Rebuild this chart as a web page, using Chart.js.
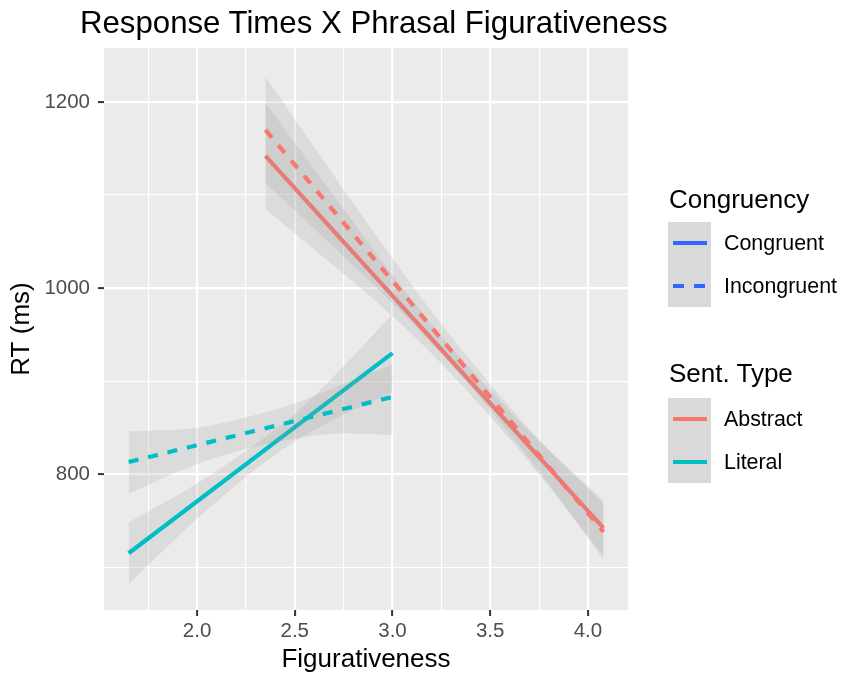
<!DOCTYPE html>
<html>
<head>
<meta charset="utf-8">
<script src="https://cdn.jsdelivr.net/npm/chart.js@4/dist/chart.umd.min.js"></script>
<style>
  body { margin: 0; background: #fff; font-family: "Liberation Sans", Arial, sans-serif; }
  #wrap { position: relative; width: 843px; height: 677px; }
  #title { position: absolute; left: 80px; top: 7px; font-size: 31.2px; line-height: 31px; color: #000; white-space: nowrap; }
  .lg-title { position: absolute; left: 669px; font-size: 26px; line-height: 30px; height: 30px; color: #000; white-space: nowrap; }
  .lg-box { position: absolute; left: 668px; width: 43px; height: 85px; background: #D9D9D9; }
  .lg-key { position: absolute; left: 673px; width: 34px; height: 4px; }
  .lg-label { position: absolute; left: 724px; font-size: 21.4px; line-height: 24px; height: 24px; color: #000; white-space: nowrap; }
</style>
</head>
<body>
<div id="wrap">
  <canvas id="chart" width="843" height="677"></canvas>
  <div id="title">Response Times X Phrasal Figurativeness</div>
  <div id="legend"></div>
</div>
<script>
// fitted lines (end points)
const abstractLineX = [2.35, 4.08];
const literalLineX = [1.65, 3.0];
const abstractCongruentRT = [1142, 742];
const abstractIncongruentRT = [1170, 738];
const literalCongruentRT = [715, 930];
const literalIncongruentRT = [813, 883];

// confidence bands, read at a few x positions
const abstractBandX = [2.35, 2.75, 3.0, 3.25, 3.5, 3.75, 4.08];
const abstractCongruentUpper = [1199, 1085, 1014, 949, 890, 836, 772];
const abstractCongruentLower = [1085, 1015, 970, 919, 862, 800, 712];
const abstractIncongruentUpper = [1227, 1106, 1032, 961, 897, 837, 768];
const abstractIncongruentLower = [1113, 1034, 984, 929, 869, 803, 708];

const literalBandX = [1.65, 2.0, 2.25, 2.5, 2.75, 3.0];
const literalCongruentUpper = [748, 790, 825, 865, 916, 972];
const literalCongruentLower = [682, 752, 797, 835, 864, 888];
const literalIncongruentUpper = [846, 850, 861, 876, 897, 918];
const literalIncongruentLower = [779, 811, 827, 838, 844, 842];

// axes
const xMajorTicks = [2.0, 2.5, 3.0, 3.5, 4.0];
const xTickLabels = ['2.0', '2.5', '3.0', '3.5', '4.0'];
const xMinorTicks = [1.75, 2.25, 2.75, 3.25, 3.75];
const yMajorTicks = [800, 1000, 1200];
const yTickLabels = ['800', '1000', '1200'];
const yMinorTicks = [700, 900, 1100];

const congruencyLevels = ['Congruent', 'Incongruent'];
const sentTypeLevels = ['Abstract', 'Literal'];

const RED = '#F8766D';
const CYAN = '#00BFC4';
const BLUE = '#3366FF';
const BAND = 'rgba(153,153,153,0.2)';
const FONT = '"Liberation Sans", Arial, sans-serif';

Chart.defaults.font.family = FONT;

function points(xs, ys) {
    return xs.map((x, i) => ({ x: x, y: ys[i] }));
}

let drawSeq = 0;
function nextOrder() {
    drawSeq++;
    return 1000 - drawSeq;
}

function ribbon(xs, upper, lower) {
    const ord = nextOrder();
    return [
        { data: points(xs, upper), borderWidth: 0, borderColor: 'transparent', pointRadius: 0,
          fill: false, cubicInterpolationMode: 'monotone', order: ord },
        { data: points(xs, lower), borderWidth: 0, borderColor: 'transparent', pointRadius: 0,
          fill: '-1', backgroundColor: BAND, cubicInterpolationMode: 'monotone', order: ord }
    ];
}

function fitLine(xs, ys, color, dashed) {
    return { data: points(xs, ys), borderColor: color, borderWidth: 4.2, pointRadius: 0,
             borderDash: dashed ? [10, 10] : [], borderCapStyle: 'butt', fill: false, order: nextOrder() };
}

// ggplot draws each group's ribbon, then its line, group by group
const datasets = [
    ...ribbon(abstractBandX, abstractCongruentUpper, abstractCongruentLower),
    fitLine(abstractLineX, abstractCongruentRT, RED, false),
    ...ribbon(abstractBandX, abstractIncongruentUpper, abstractIncongruentLower),
    fitLine(abstractLineX, abstractIncongruentRT, RED, true),
    ...ribbon(literalBandX, literalCongruentUpper, literalCongruentLower),
    fitLine(literalLineX, literalCongruentRT, CYAN, false),
    ...ribbon(literalBandX, literalIncongruentUpper, literalIncongruentLower),
    fitLine(literalLineX, literalIncongruentRT, CYAN, true)
];

const panelBackground = {
    id: 'panelBackground',
    beforeDraw(chart) {
        const { ctx, chartArea: a } = chart;
        ctx.save();
        ctx.fillStyle = '#EBEBEB';
        ctx.fillRect(a.left, a.top, a.right - a.left, a.bottom - a.top);
        ctx.restore();
    }
};

function axisOptions(major, minor, labels, min, max) {
    const isMajor = v => major.includes(v);
    return {
        type: 'linear',
        min: min,
        max: max,
        afterBuildTicks: axis => {
            axis.ticks = [...minor, ...major].sort((a, b) => a - b).map(v => ({ value: v }));
        },
        border: { display: false },
        grid: {
            color: '#FFFFFF',
            lineWidth: c => (c.tick && isMajor(c.tick.value)) ? 2.2 : 1.1,
            drawTicks: true,
            tickLength: 6,
            tickWidth: 2,
            tickColor: c => (c.tick && isMajor(c.tick.value)) ? '#333333' : 'rgba(0,0,0,0)'
        },
        ticks: {
            autoSkip: false,
            maxRotation: 0,
            color: '#4D4D4D',
            font: { size: 20.5 },
            callback: v => {
                const i = major.indexOf(v);
                return i >= 0 ? labels[i] : '';
            }
        }
    };
}

const xAxis = axisOptions(xMajorTicks, xMinorTicks, xTickLabels, 1.524, 4.205);
xAxis.ticks.padding = 3;
xAxis.afterFit = s => { s.height = 67; };
xAxis.title = { display: true, text: 'Figurativeness', color: '#000', font: { size: 26 }, padding: { top: 0, bottom: 2 } };

const yAxis = axisOptions(yMajorTicks, yMinorTicks, yTickLabels, 654, 1258);
yAxis.ticks.padding = 8;
yAxis.afterFit = s => { s.width = 104; };
yAxis.title = { display: true, text: 'RT (ms)', color: '#000', font: { size: 26 }, padding: { top: 6, bottom: 0 } };

new Chart(document.getElementById('chart').getContext('2d'), {
    type: 'line',
    data: { datasets: datasets },
    options: {
        responsive: false,
        animation: false,
        layout: { padding: { left: 0, top: 48, right: 215, bottom: 0 } },
        scales: { x: xAxis, y: yAxis },
        plugins: {
            legend: { display: false },
            tooltip: { enabled: false },
            title: { display: false }
        }
    },
    plugins: [panelBackground]
});

// legend, built as html so the text stays text
const legend = document.getElementById('legend');
function addEl(cls, style, text) {
    const el = document.createElement('div');
    el.className = cls;
    Object.assign(el.style, style);
    if (text) el.textContent = text;
    legend.appendChild(el);
}

const keyGroups = [
    { title: 'Congruency', titleY: 199, boxTop: 222, levels: congruencyLevels,
      keys: [
        { background: BLUE },
        { background: 'repeating-linear-gradient(to right, ' + BLUE + ' 0 11px, rgba(0,0,0,0) 11px 21px)' }
      ] },
    { title: 'Sent. Type', titleY: 373, boxTop: 398, levels: sentTypeLevels,
      keys: [ { background: RED }, { background: CYAN } ] }
];

keyGroups.forEach(g => {
    addEl('lg-title', { top: (g.titleY - 15) + 'px' }, g.title);
    addEl('lg-box', { top: g.boxTop + 'px' });
    g.levels.forEach((lvl, i) => {
        const cy = g.boxTop + 21.25 + i * 42.5;
        addEl('lg-key', { top: (cy - 2) + 'px', background: g.keys[i].background });
        addEl('lg-label', { top: (cy - 12) + 'px' }, lvl);
    });
});
</script>
</body>
</html>
